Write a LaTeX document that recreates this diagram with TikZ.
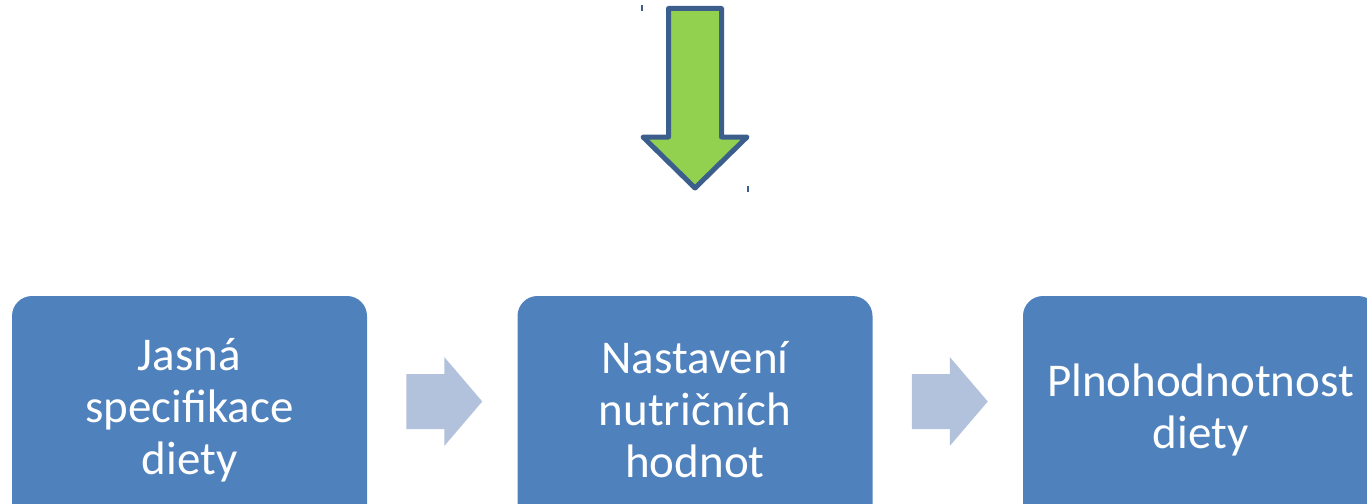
\documentclass[tikz,border=0pt]{standalone}
\usepackage{fontspec}
\setmainfont{Carlito}
\usetikzlibrary{calc}
\definecolor{boxblue}{HTML}{4F81BD}
\definecolor{chevblue}{HTML}{B3C2DC}
\definecolor{arrgreen}{HTML}{92D050}
\definecolor{arredge}{HTML}{3B5E8C}
\tikzset{
  box/.style={fill=boxblue, rounded corners=20pt, minimum width=355pt, minimum height=228pt,
    inner sep=0pt, text=white, font=\fontsize{47}{52}\selectfont, align=center, text width=348pt},
  chev/.style={fill=chevblue},
  bigarrow/.style={fill=arrgreen, draw=arredge, line width=5pt, line join=round},
  tick/.style={draw=arredge, line width=1.5pt}
}
\begin{document}
\begin{tikzpicture}[x=1pt,y=-1pt]
\useasboundingbox (0,0) rectangle (1367,503);
\clip (0,0) rectangle (1367,503);
\node[box] (b1) at (189.5,410) {Jasná\\specifikace\\diety};
\node[box] (b2) at (695,410) {Nastavení\\nutričních\\hodnot};
\node[box] (b3) at (1200.5,410) {Plnohodnotnost\\diety};
\foreach \a/\b in {b1/b2,b2/b3}{
  \coordinate (m) at ($(\a.east)!0.5!(\b.west)+(2,-8.5)$);
  \fill[chev] ([shift={(-38,-27.5)}]m) -- ++(38,0) -- ++(0,-17) -- ++(38,44.5)
    -- ++(-38,44.5) -- ++(0,-17) -- ++(-38,0) -- cycle;
}
\draw[bigarrow] (668.5,8.5) -- (721.5,8.5) -- (721.5,137) -- (747,137) -- (695,188)
  -- (643,137) -- (668.5,137) -- cycle;
\coordinate (t1a) at (642,5); \coordinate (t1b) at (642,11);
\coordinate (t2a) at (748,186); \coordinate (t2b) at (748,192);
\draw[tick] (t1a) -- (t1b);
\draw[tick] (t2a) -- (t2b);
\end{tikzpicture}
\end{document}
